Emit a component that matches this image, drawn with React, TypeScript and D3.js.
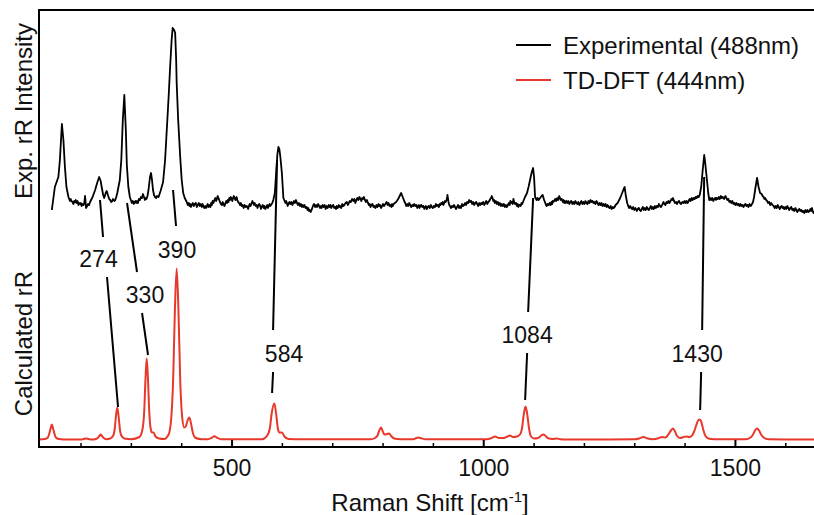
import React from "react";
import * as d3 from "d3";

// Experimental rR spectrum: [Raman shift (cm-1), intensity (arb.)]
const expData: [number, number][] = [
[142,5],[148,28],[155,38],[158,55],[162,91],[165,75],[168,48],[171,28],
[175,18],[176.5,16],[178,14],[179.5,16],[181,14],[183,13],[185,11],[186.5,14],[188,13],[189.5,15],[191,12],[193,14],[195,10],[196.5,12],[198,11],[199.5,12],[201,9],[203,11],[205,10],[206.5,12],[208,19],[209,13],[210,7],[212,9],[214,11],[216,10],[218,13],
[223,18],[228,25],[232,32],[236,38],[239,34],[241,28],[244,20],[246,17],[249,22],[251,24],[254,19],[256,16],[258,15],[260,13],[262,14],[263.5,16],[265,15],[266.5,14],[268,15],[270,18],[272,22],[277,35],[280,55],[283,95],[286,120],[289,85],[291,50],[294,28],
[297,18],[299,15],[301,12],[303,14],[305,11],[306.5,13],[308,14],[309.5,12],[311,14],[313,12],[315,16],[317,15],[319,18],[321,17],[323,21],[325,18],[327,15],[328.5,17],[330,16],[332,19],
[334,25],[337,38],[339,42],[341,35],[343,25],[345,20],[347,18],[349,17],[351,19],[354,18],[356,21],[358,24],[363,33],[367,55],[370,82],[374,118],[377,148],[380,175],[382,187],[385,185],[387,182],[389,155],[390,132],[393,95],[397,58],[400,35],[403,22],[406,17],
[410,13],[412,10],[414,12],[415.5,9],[417,11],[418.5,8],[420,10],[422,12],[424,9],[426,11],[428,12],[430,8],[432,10],[434,12],[436,9],[438,11],[440,8],[441.5,11],[443,9],[445,7],[447,9],[448.5,7],[450,9],[451.5,11],[453,8],[455,10],[457,8],[458.5,12],[460,10],[461.5,14],[463,12],[465,15],[467,17],[468.5,14],[470,16],[471.5,19],[473,17],[474.5,15],[476,13],[478,11],[480,10],[481.5,13],[483,11],[485,9],[487,12],[488.5,14],[490,12],[491.5,15],[493,13],[494.5,17],[496,15],[497.5,18],[499,16],[500.5,14],[502,17],[503.5,19],[505,17],[507,15],[509,18],[510.5,15],[512,13],[514,12],[516,10],[517.5,12],[519,9],[521,10],[523,7],[525,10],[527,8],[529.5,9],[532,6],[533.5,9],[535,11],[537,9],[539,12],[540.5,14],[542,12],[543.5,10],[545,12],[547,9],[549,10],[550.5,7],[552,9],[554,11],[556,9],[557.5,6],[559,8],[561,10],[563,7],[564.5,9],[566,6],[568,8],[570,10],[571.5,7],[573,9],[574.5,11],[576,9],
[580,12],[582,15],[585,22],[588,45],[590,60],[592,68],[594,66],[596,58],[599,42],[602,17],
[606,12],[607.5,14],[609,12],[610.5,9],[612,11],[614,13],[616,11],[618,13],[620,10],[621.5,12],[623,14],[625,12],[627,15],[629,12],[631,10],[633,12],[635,9],[637,11],[639,8],[640.5,10],[642,8],[644,10],[646,7],[648,8],[650,5],[651.5,7],[653,4],[654.5,5],[656,3],[658,5],[660,8],[661.5,10],[663,11],[665,8],[667,10],[669,8],[671,11],[673,9],[675,7],[676.5,9],[678,7],[680,10],[682,8],[684,10],[686,6],[688,9],[690,7],[692,10],[694,8],[695.5,10],[697,7],[699,9],[701,10],[703,7],[705,8],[706.5,6],[708,9],[710,7],[712,10],[713.5,8],[715,9],[717,7],[719,11],[721,9],[723,10],[725.5,12],[728,13],[730,10],[732,12],[734,14],[736,13],[738.5,16],[741,14],[743,16],[745,12],[747,15],[749,17],[751,15],[753,18],[755,16],[757,14],[758.5,17],[760,16],[762,18],[764,15],[766,13],[768,15],[770,12],[772,10],[773.5,11],[775,8],[777,10],[779,11],[781,8],[783,9],[785,7],[787,10],[789,8],[791,11],[792.5,9],[794,10],[796,7],[798,9],[800,11],[802,9],[804.5,11],[807,13],[809,10],[811,12],[813,9],[815,10],[816.5,8],[818,11],[819.5,9],[821,11],[823.5,12],
[826,13],[830,16],[833,19],[836,22],[839,18],[842,14],
[844,12],[846,9],[848,11],[850,9],[852,12],[854,10],[856,8],[858,10],[860,9],[862,11],[864,9],[866,10],[868,7],[869.5,9],[871,10],[872.5,7],[874,9],[876,10],[878,8],[880,9],[882,6],[883.5,8],[885,9],[886,7],[887,6],[889,8],[891,9],[893,7],[895,10],[897,8],[899,7],[901,9],[903,8],[905,11],[907,9],[909,10],[911,8],[912.5,11],[914,10],[915.5,12],[917,11],[918.5,13],[920,10],[921.5,12],[923,14],[924.5,13],[926,15],[927,17],[928,20],[929,16],[930,13],[931.5,10],[933,9],[935,7],[937,9],[939,8],[941,10],[943,8],[945,6],[947,8],[949,10],[951,7],[953,9],[955,7],[957,11],[959,9],[961,10],[963,12],[965,10],[967,13],[969,12],[971,15],[973,13],[975,14],[977,11],[979,13],[981,10],[983,12],[985,13],[987,11],[989,9],[991,12],[993,10],[995,12],[997,11],[999,13],[1001,10],[1003,12],[1005,14],[1007,11],[1009,13],[1011,14],[1013,16],[1014.5,17],[1016,19],[1017.5,17],[1019,14],[1020.5,15],[1022,12],[1024,14],[1026,11],[1028,13],[1030,10],[1032,12],[1034,9],[1036,11],[1038,9],[1040,11],[1042,8],[1044,10],[1046,8],[1048,10],[1050,12],[1051.5,10],[1053,14],[1054.5,12],[1056,13],[1057.5,11],[1059,16],[1060.5,13],[1062,11],[1064,12],[1066,9],[1067.5,11],[1069,8],[1070.5,10],[1072,10],[1073.5,9],[1075,12],[1076.5,11],[1078,13],
[1082,18],[1086,22],[1089,28],[1092,35],[1095,42],[1098,47],[1100,38],[1102,18],[1105,15],[1107,17],[1109,15],[1112,17],[1115,19],[1117,20],[1120,15],[1123,11],
[1125,9],[1127,11],[1129,10],[1131,12],[1133,10],[1134.5,13],[1136,11],[1137,14],[1138,13],[1140,14],[1142,16],[1144,14],[1146,17],[1148,15],[1150,19],[1151.5,17],[1153,15],[1155,16],[1157,13],[1158.5,15],[1160,12],[1161,14],[1162,12],[1164,14],[1166,12],[1168,14],[1170,11],[1172,13],[1174,14],[1176,11],[1178,13],[1180,11],[1182,14],[1184,12],[1186,11],[1188,13],[1190,10],[1192,12],[1194,14],[1196,11],[1198,13],[1200,11],[1202,14],[1204,12],[1206,11],[1208,14],[1210,12],[1212,15],[1214,13],[1216,14],[1218,12],[1220,13],[1222,11],[1224,14],[1226,12],[1228,10],[1230,12],[1232,10],[1234,12],[1236,9],[1238,11],[1240,9],[1242,11],[1244,8],[1246,10],[1248,8],[1250,7],[1252,9],[1254,6],[1256,8],[1258,7],[1260,8],[1262,10],[1264,11],
[1266,12],[1269,15],[1271,17],[1275,22],[1278,26],[1280,28],[1282,20],[1285,12],
[1287,9],[1289,7],[1291,9],[1293,7],[1295,6],[1297,8],[1299,5],[1301.5,7],[1304,4],[1306,6],[1308,7],[1310,5],[1312,4],[1314,6],[1316,8],[1318,5],[1320,7],[1322,5],[1324,8],[1326,6],[1328,5],[1330,7],[1332,9],[1334,6],[1336,8],[1338,6],[1340,9],[1342,7],[1344,9],[1346,8],[1348,11],[1350,9],[1352,8],[1354.5,10],[1357,13],[1359,11],[1361,10],[1363,13],[1365,12],[1367,14],[1369,12],[1371,14],[1373,16],[1374.5,15],[1376,17],[1378,14],[1380,12],[1382,13],[1384,11],[1386,13],[1388,14],[1390,12],[1392,11],[1394.5,13],[1397,12],[1399,14],[1401,12],[1403,14],[1405,12],[1407,14],[1409,16],[1411,14],[1413,17],[1415,15],[1417,17],[1419,16],[1421,18],[1423,17],[1425,19],[1427,18],[1429,20],
[1432,28],[1435,45],[1438,60],[1440,52],[1443,37],[1446,22],
[1448,15],[1450,17],[1452,15],[1454,17],[1456,14],[1458,16],[1460,17],[1461.5,15],[1463,17],[1465,16],[1467,18],[1469,16],[1471,19],[1473,17],[1475,18],[1477.5,16],[1480,19],[1482,17],[1484,15],[1486,16],[1488,13],[1490,14],[1492,12],[1494,14],[1496,11],[1498,12],[1500,10],[1502,12],[1504,10],[1506,11],[1508,9],[1510,11],[1512,9],[1514,10],[1516,8],[1518,10],[1520,11],[1522,9],[1524,10],[1526,8],[1528,11],[1530.5,9],[1533,11],[1535,13],
[1537,18],[1540,28],[1543,37],[1546,28],[1549,22],[1552,21],[1554,19],
[1556,18],[1557.5,16],[1559,17],[1561,15],[1563,14],[1565,12],[1567,13],[1569,10],[1571,12],[1573.5,10],[1576,9],[1578,7],[1580,9],[1582,7],[1584,10],[1586,8],[1588,6],[1590,8],[1592,9],[1593.5,7],[1595,8],[1597,6],[1599,8],[1601,6],[1603,9],[1605,7],[1607,5],[1609,7],[1611,8],[1613,5],[1615,6],[1617,4],[1619,7],[1621,5],[1623,3],[1625,5],[1627,6],[1629,4],[1631,5],[1633,3],[1635,4],[1637,2],[1639,5],[1641,3],[1643,5],[1645,3],[1647,4],[1649,6],[1650.5,4],[1652,7],[1653.5,4],[1655,2],[1657.5,4],[1660,3],[1662.5,5],[1665,4],[1667.5,5],[1670,3]
];

// Calculated TD-DFT rR spectrum: [Raman shift (cm-1), intensity (arb.)]
const calcData: [number, number][] = [
[116,0],[128,0.4],[134,2],[137,6],[139.5,11],[142,15],[144.5,11],[147,6],[150,2],[156,0.4],[165,0],
[200,0],[205,0.5],[210,1],[215,0.5],[222,0],
[228,0.3],[233,1.5],[236.5,3.5],[239,5],[241.5,3.5],[245,1.5],[250,0.3],
[258,1],[264,4],[267,11],[269.5,24],[272,32],[274.5,24],[277,11],[280,4],[286,1],
[300,0.3],[316,2.5],[322,10],[325.5,28],[328,60],[330.5,81],[333,60],[335.5,28],[338,12],[341,7],[344,7],[348,3],[355,1],
[365,0.5],[374,5],[379,20],[383,60],[386.5,130],[390,171],[393.5,130],[397,60],[401,22],[405,12],[408,13],[411,18],[415,22],[418.5,16],[422,7],[428,1.5],[440,0.3],
[452,0.3],[459,1.5],[465,3.3],[471,1.5],[478,0.3],
[560,0.3],[570,4],[575,11],[579,27],[584,36],[588,24],[591,11],[594,7],[599,7],[604,3],[612,0.5],[640,0.2],
[775,0.2],[784,1.5],[789,4],[792.5,9],[796,12],[799.5,8],[803,5],[808,5.5],[812,6],[816,3.5],[822,1],[835,0.2],
[860,0.3],[865,1.2],[870,2],[876,1.2],[884,0.3],
[1005,0.2],[1015,1.3],[1023,3],[1030,1.5],[1040,1.5],[1047,3],[1052,4],[1058,2.5],[1066,3],[1072,5],[1076,11],[1079.5,25],[1083,33],[1086.5,25],[1090,11],[1094,3],[1100,1],[1108,1.5],[1113,3.5],[1118,5],[1123,3.5],[1128,1.2],[1136,0.5],[1145,1],[1152,0.3],[1165,0],
[1300,0.2],[1310,1.3],[1317,2.5],[1324,1.3],[1335,0.3],[1347,1.2],[1354,2.5],[1360,2],[1364,3],[1368,6],[1372,9],[1376,11],[1380,8],[1384,3.5],[1390,1.5],[1397,2.5],[1403,3],[1408,2.5],[1413,3.5],[1418,8],[1422,14],[1426,19],[1429,20],[1432,18],[1436,10],[1440,4],[1446,1],[1458,0.2],
[1520,0.2],[1530,2],[1535,5],[1539,9],[1543,11],[1547,9],[1551,5],[1556,2],[1566,0.2],[1680,0]
];

const expOffset = 224.5;

const majorTicks = [500, 1000, 1500];
const minorTicks = [200, 300, 400, 600, 700, 800, 900, 1100, 1200, 1300, 1400, 1600];

const annoLabels = ["274", "330", "390", "584", "1084", "1430"];
const annoLabelX = [234.7, 327.1, 390.7, 603.3, 1086.2, 1424];
const annoLabelY = [172.5, 136.5, 181.5, 77.5, 96.5, 77.5];
const annoUpper: number[][] = [
  [237.7, 239.5, 243.7, 202.5],
  [291.4, 236.5, 311.2, 167.5],
  [382.8, 249.5, 388.7, 213.5],
  [589.4, 279.5, 581.5, 109.5],
  [1098.1, 241.5, 1088.2, 127.5],
  [1437.9, 262.5, 1433.9, 109.5],
];
const annoLower: (number[] | null)[] = [
  [251.6, 162.5, 273.5, 32.5],
  [321.2, 126.5, 333.1, 84.5],
  null,
  [581.5, 67.5, 579.5, 46.5],
  [1086.2, 86.5, 1082.2, 39.5],
  [1431.9, 67.5, 1429.9, 29.5],
];

const legendLabels = ["Experimental (488nm)", "TD-DFT (444nm)"];
const seriesColors = ["#000000", "#e8382b"];

const W = 814, H = 515;
const left = 39, right = 821, top = 10, bottom = 447;
const FONT = "'Liberation Sans', Arial, sans-serif";

export default function App() {
  const x = d3.scaleLinear().domain([116.5, 1670]).range([left, right]);
  const y = d3.scaleLinear().domain([-7.5, 429.5]).range([bottom, top]);

  const expLine = d3.line<[number, number]>()
    .x(d => x(d[0]))
    .y(d => y(d[1] + expOffset));
  const calcLine = d3.line<[number, number]>()
    .x(d => x(d[0]))
    .y(d => y(d[1]))
    .curve(d3.curveMonotoneX);

  return (
    <svg width={W} height={H} style={{ position: "absolute", left: 0, top: 0, background: "#fff" }}>
      <defs>
        <clipPath id="plotClip">
          <rect x={left} y={top} width={right - left} height={bottom - top} />
        </clipPath>
      </defs>
      <g clipPath="url(#plotClip)">
        <path d={calcLine(calcData) || ""} fill="none" stroke={seriesColors[1]} strokeWidth={2} strokeLinejoin="round" />
        <path d={expLine(expData) || ""} fill="none" stroke={seriesColors[0]} strokeWidth={1.8} strokeLinejoin="round" />
      </g>

      {annoLabels.map((lab, i) => (
        <g key={lab}>
          <line x1={x(annoUpper[i][0])} y1={y(annoUpper[i][1])} x2={x(annoUpper[i][2])} y2={y(annoUpper[i][3])} stroke="#000" strokeWidth={2} />
          {annoLower[i] && (
            <line x1={x(annoLower[i]![0])} y1={y(annoLower[i]![1])} x2={x(annoLower[i]![2])} y2={y(annoLower[i]![3])} stroke="#000" strokeWidth={2} />
          )}
          <text x={x(annoLabelX[i])} y={y(annoLabelY[i])} textAnchor="middle" fontFamily={FONT} fontSize={23} fill="#111">{lab}</text>
        </g>
      ))}

      <line x1={left} y1={top} x2={W} y2={top} stroke="#000" strokeWidth={2} />
      <line x1={left} y1={bottom} x2={W} y2={bottom} stroke="#000" strokeWidth={2} />
      <line x1={left} y1={top - 1} x2={left} y2={bottom + 1} stroke="#000" strokeWidth={2} />

      {minorTicks.map(t => (
        <line key={"m" + t} x1={x(t)} x2={x(t)} y1={bottom} y2={bottom - 4} stroke="#000" strokeWidth={1.5} />
      ))}
      {majorTicks.map(t => (
        <g key={"M" + t}>
          <line x1={x(t)} x2={x(t)} y1={bottom} y2={bottom - 7} stroke="#000" strokeWidth={2} />
          <text x={x(t)} y={476} textAnchor="middle" fontFamily={FONT} fontSize={23} fill="#111">{t}</text>
        </g>
      ))}

      <text x={430} y={511} textAnchor="middle" fontFamily={FONT} fontSize={24} fill="#111">
        Raman Shift [cm<tspan dy={-9} fontSize={15}>-1</tspan><tspan dy={9}>]</tspan>
      </text>
      <text transform="translate(32,111) rotate(-90)" textAnchor="middle" fontFamily={FONT} fontSize={24} fill="#111">Exp. rR Intensity</text>
      <text transform="translate(32,343.5) rotate(-90)" textAnchor="middle" fontFamily={FONT} fontSize={24} fill="#111">Calculated rR</text>

      {legendLabels.map((lab, i) => (
        <g key={lab}>
          <line x1={516} x2={551} y1={45 + i * 35} y2={45 + i * 35} stroke={seriesColors[i]} strokeWidth={2} />
          <text x={563} y={53.5 + i * 35} fontFamily={FONT} fontSize={24} fill="#111">{lab}</text>
        </g>
      ))}
    </svg>
  );
}
